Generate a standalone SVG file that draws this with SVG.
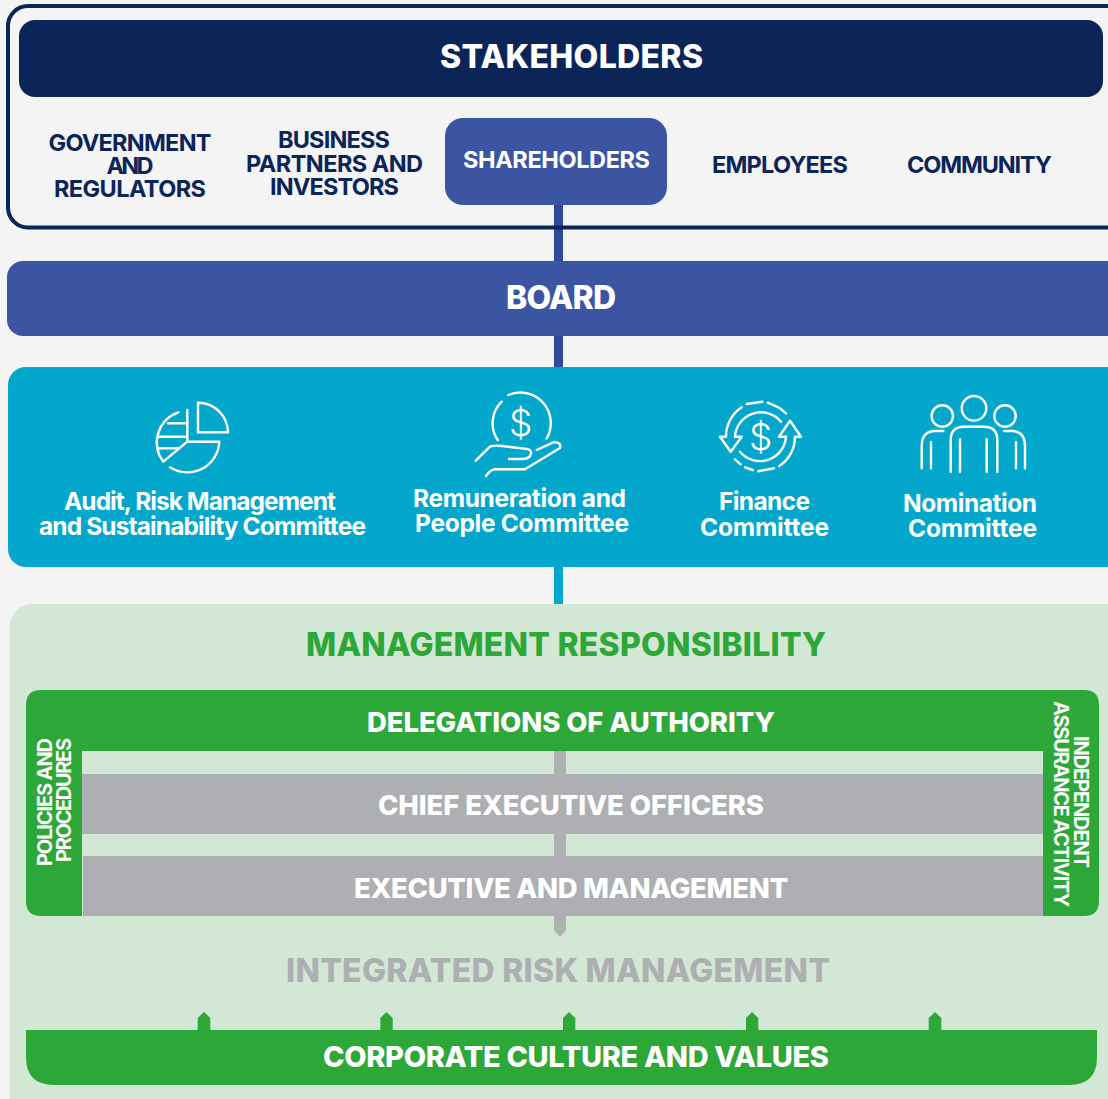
<svg xmlns="http://www.w3.org/2000/svg" width="1108" height="1099" viewBox="0 0 1108 1099">
<style>
text{font-family:Inter,"Liberation Sans",sans-serif;font-weight:700;text-anchor:middle}
.w{fill:#fff}.n{fill:#0b2559}
.s{font-size:23.5px}.c{font-size:24.5px;fill:#fff}.h{font-size:32px;font-weight:800}.b{font-size:27.5px;fill:#fff;font-weight:800}.v{font-size:20px;fill:#fff}
.d{font-size:37px;fill:#fff;font-weight:300}
.ic{fill:none;stroke:#fff;stroke-width:2.4;stroke-linecap:round;stroke-linejoin:round}
.g{fill:#2ca738}.y{fill:#aeafb2}
</style>
<rect width="1108" height="1099" fill="#f4f4f4"/>
<g id="connectors">
<rect x="554" y="205" width="9" height="57" fill="#2f4a98"/>
<rect x="554" y="336" width="9" height="32" fill="#2f4a98"/>
<rect x="554" y="567" width="9" height="37" fill="#03a7cc"/>
</g>
<g id="stakeholders">
<rect x="8" y="6" width="1125" height="221.500" rx="20" fill="none" stroke="#0b2559" stroke-width="4"/>
<rect x="19" y="20" width="1084" height="77" rx="16" fill="#0b2559"/>
<text x="571.500" y="67.500" class="h w" textLength="263">STAKEHOLDERS</text>
</g>
<g id="government"><text class="s n" x="130" y="151" textLength="163">GOVERNMENT</text><text class="s n" x="130" y="174" textLength="47">AND</text><text class="s n" x="130" y="197" textLength="152">REGULATORS</text></g>
<g id="partners"><text class="s n" x="334" y="148" textLength="112">BUSINESS</text><text class="s n" x="334.500" y="171.500" textLength="177">PARTNERS AND</text><text class="s n" x="334.500" y="195" textLength="129">INVESTORS</text></g>
<g id="shareholders"><rect x="445" y="118" width="222" height="87" rx="18" fill="#3c55a2"/><text class="s w" x="556.500" y="168" textLength="187">SHAREHOLDERS</text></g>
<g id="employees"><text class="s n" x="780" y="173" textLength="136">EMPLOYEES</text></g>
<g id="community"><text class="s n" x="979.500" y="173" textLength="145">COMMUNITY</text></g>
<g id="board"><rect x="7" y="261" width="1125" height="75" rx="16" fill="#3c55a2"/><text class="h w" x="561" y="309" textLength="110">BOARD</text></g>
<g id="committees"><rect x="8" y="367" width="1125" height="200" rx="18" fill="#03a7cc"/></g>
<g id="audit">
<g class="ic">
<path d="M198 402.700A30 30 0 0 1 228 432.300H198Z"/>
<path d="M187.300 410V441.700H219.300A32 32 0 0 1 170 467.300"/>
<path d="M178.300 412.300A32 32 0 0 0 163.300 461.700L187.300 441.700"/>
<path d="M168 423.300H187.300M158 436.700H187.300M158 448.300H178"/>
</g>
<text class="c" x="200" y="510" textLength="272">Audit, Risk Management</text><text class="c" x="202.500" y="535" textLength="327">and Sustainability Committee</text></g>
<g id="remuneration">
<g class="ic">
<path d="M501.700 401.700A30 30 0 0 0 497.700 440M508.300 395A30.500 30.500 0 0 1 546.700 438.300"/>
<path d="M475.700 460.700L490 446.700Q494 445 502 446L523 448.500Q534 449 530 456Q528 459 522 459L509 459"/>
<path d="M536.700 450L553.300 442.300Q562 442 560 448L525 469.300H495Q490 470 486 476"/>
</g>
<text class="d" x="520.700" y="436">$</text>
<text class="c" x="519.500" y="507" textLength="213">Remuneration and</text><text class="c" x="522" y="532" textLength="214">People Committee</text></g>
<g id="finance">
<g class="ic">
<path d="M781 421.700A26 26 0 0 0 735 436.700M786 436.700A26 26 0 0 1 740 451.700"/>
<path d="M741.700 407.300A35 35 0 0 0 726 436.700H720L730.700 451.700L741.700 436.700H735"/>
<path d="M795 436.700A35 35 0 0 1 779.300 466M786 436.700H779L790 420.700L801 436.700H795"/>
<path d="M746.700 404L762.300 401.700M767.700 402.700L778.300 407.300M780 408.300L786 413.300M735 459.300L740.700 464.300M745 467.300L752.700 470M758.300 471.300L774 468.300"/>
</g>
<text class="d" x="760.700" y="450">$</text>
<text class="c" x="764.500" y="510" textLength="91">Finance</text><text class="c" x="764.500" y="536" textLength="129">Committee</text></g>
<g id="nomination">
<g class="ic">
<circle cx="974" cy="408.300" r="12.300"/><circle cx="942.300" cy="416" r="10.700"/><circle cx="1005" cy="416" r="10.700"/>
<path d="M950.700 471.700V440Q950.700 426.700 964 426.700H984Q997.300 426.700 997.300 440V471.700M960 439.300V471.700M986.700 439.300V471.700"/>
<path d="M943.300 431H934Q921.700 432 921.700 446V468.300M931 442.300V468.300"/>
<path d="M1004 431H1013Q1025 432 1025 446V468.300M1016 442.300V468.300"/>
</g>
<text class="c" x="970" y="512" textLength="134">Nomination</text><text class="c" x="972.500" y="537" textLength="129">Committee</text></g>
<g id="management"><rect x="10" y="604" width="1125" height="520" rx="22" fill="#d3e7d5"/>
<text x="566" y="656" class="h" fill="#2ca738" textLength="520">MANAGEMENT RESPONSIBILITY</text></g>
<g id="frame">
<path class="g" d="M41 690H1084Q1099 690 1099 705V901Q1099 916 1084 916H1043V751H82V916H41Q26 916 26 901V705Q26 690 41 690Z"/>
<text class="b" x="571" y="732" textLength="408">DELEGATIONS OF AUTHORITY</text>
<text class="v" transform="translate(52 802) rotate(-90)" textLength="128">POLICIES AND</text>
<text class="v" transform="translate(71 800) rotate(-90)" textLength="124">PROCEDURES</text>
<text class="v" transform="translate(1074 802) rotate(90)" textLength="132">INDEPENDENT</text>
<text class="v" transform="translate(1054 804) rotate(90)" textLength="206">ASSURANCE ACTIVITY</text>
</g>
<g id="grey-connectors">
<path class="y" d="M554 751H566V930L560 937L554 930Z"/>
</g>
<g id="ceo"><rect class="y" x="82" y="774" width="961" height="60"/><text class="b" x="571" y="815" textLength="386">CHIEF EXECUTIVE OFFICERS</text></g>
<g id="executive"><rect class="y" x="83" y="856" width="960" height="60"/><text class="b" x="571" y="898" textLength="434">EXECUTIVE AND MANAGEMENT</text></g>
<g id="risk"><text x="558" y="982" class="h" fill="#aeafb2" textLength="544">INTEGRATED RISK MANAGEMENT</text></g>
<g id="culture">
<path class="g" d="M197.700 1030V1018L204 1012L210.300 1018V1030ZM380.300 1030V1018L386.500 1012L392.700 1018V1030ZM563 1030V1018L569 1012L575.300 1018V1030ZM746 1030V1018L752 1012L758.300 1018V1030ZM928.700 1030V1018L935 1012L941.300 1018V1030Z"/>
<path class="g" d="M26 1030H1097V1057Q1097 1085 1069 1085H54Q26 1085 26 1057Z"/>
<text class="b" style="font-size:29px" x="576" y="1067" textLength="506">CORPORATE CULTURE AND VALUES</text>
</g>
</svg>
